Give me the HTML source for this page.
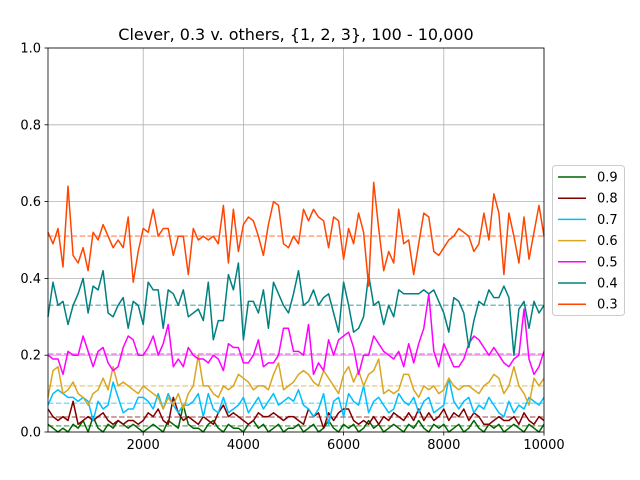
<!DOCTYPE html>
<html><head><meta charset="utf-8"><style>
body{margin:0;background:#fff;}
svg{display:block;font-family:"DejaVu Sans","Liberation Sans",sans-serif;}
</style></head><body>
<svg id="chart" width="640" height="480" viewBox="0 0 640 480" xmlns="http://www.w3.org/2000/svg">
<rect x="0" y="0" width="640" height="480" fill="#fff"/>
<text x="296" y="40" text-anchor="middle" font-size="16">Clever, 0.3 v. others, {1, 2, 3}, 100 - 10,000</text>
<g id="grid"></g><g id="means"></g><g id="lines"></g><g id="axes"></g><g id="legend"></g>
</svg>
<script>
const seriesNames = ["0.9","0.8","0.7","0.6","0.5","0.4","0.3"];
const seriesColors = ["#006400","#800000","#00bfff","#daa520","#ff00ff","#008080","#ff4500"];
const seriesMeans = [0.016,0.039,0.075,0.12,0.203,0.33,0.51];
const xTicks = [2000,4000,6000,8000,10000];
const yTicks = [0.0,0.2,0.4,0.6,0.8,1.0];
const s09 = [0.02,0.01,0.00,0.01,0.00,0.02,0.01,0.03,0.00,0.04,0.01,0.00,0.02,0.01,0.03,0.02,0.01,0.02,0.01,0.00,
0.01,0.02,0.01,0.00,0.03,0.02,0.01,0.07,0.02,0.01,0.01,0.00,0.02,0.03,0.01,0.00,0.02,0.01,0.01,0.00,
0.02,0.03,0.01,0.02,0.00,0.01,0.02,0.00,0.01,0.01,0.02,0.00,0.01,0.02,0.00,0.01,0.03,0.01,0.00,0.02,
0.01,0.02,0.00,0.01,0.03,0.01,0.02,0.00,0.01,0.02,0.01,0.00,0.02,0.01,0.03,0.01,0.00,0.02,0.01,0.02,
0.00,0.01,0.02,0.00,0.01,0.03,0.01,0.00,0.02,0.01,0.02,0.00,0.01,0.02,0.01,0.00,0.02,0.01,0.00,0.02];
const s08 = [0.06,0.04,0.03,0.04,0.03,0.08,0.02,0.03,0.04,0.03,0.04,0.05,0.03,0.02,0.03,0.02,0.03,0.03,0.02,0.03,
0.05,0.04,0.06,0.03,0.02,0.09,0.05,0.03,0.04,0.03,0.02,0.04,0.03,0.02,0.05,0.07,0.04,0.05,0.04,0.03,
0.02,0.03,0.05,0.04,0.04,0.05,0.04,0.03,0.04,0.04,0.03,0.02,0.06,0.04,0.05,0.01,0.05,0.03,0.05,0.06,
0.06,0.03,0.02,0.03,0.02,0.04,0.02,0.04,0.03,0.05,0.04,0.03,0.05,0.03,0.06,0.03,0.05,0.03,0.04,0.06,
0.03,0.05,0.04,0.06,0.03,0.05,0.04,0.02,0.02,0.03,0.04,0.03,0.03,0.04,0.02,0.05,0.03,0.02,0.04,0.03];
const s07 = [0.07,0.10,0.11,0.10,0.09,0.09,0.08,0.09,0.08,0.03,0.08,0.06,0.07,0.13,0.09,0.05,0.06,0.06,0.09,0.09,
0.08,0.06,0.10,0.06,0.10,0.07,0.05,0.07,0.07,0.08,0.10,0.04,0.10,0.06,0.05,0.09,0.05,0.06,0.07,0.09,
0.05,0.07,0.09,0.06,0.08,0.10,0.07,0.08,0.09,0.08,0.11,0.07,0.06,0.04,0.06,0.10,0.02,0.08,0.09,0.04,
0.10,0.08,0.07,0.12,0.05,0.08,0.09,0.07,0.05,0.06,0.10,0.08,0.07,0.09,0.05,0.08,0.09,0.05,0.06,0.07,
0.14,0.08,0.06,0.08,0.09,0.05,0.07,0.06,0.09,0.07,0.05,0.04,0.08,0.05,0.07,0.06,0.09,0.08,0.07,0.09];
const s06 = [0.09,0.16,0.17,0.10,0.11,0.13,0.10,0.09,0.07,0.10,0.11,0.14,0.11,0.17,0.12,0.13,0.12,0.11,0.10,0.12,
0.11,0.10,0.09,0.06,0.09,0.07,0.10,0.06,0.10,0.12,0.20,0.12,0.12,0.10,0.09,0.12,0.11,0.12,0.15,0.14,
0.13,0.11,0.12,0.12,0.11,0.15,0.18,0.11,0.12,0.13,0.15,0.16,0.15,0.13,0.12,0.16,0.14,0.12,0.10,0.15,
0.17,0.13,0.16,0.12,0.15,0.16,0.19,0.10,0.11,0.10,0.11,0.15,0.15,0.11,0.09,0.12,0.11,0.12,0.10,0.11,
0.14,0.12,0.11,0.12,0.12,0.11,0.10,0.12,0.13,0.15,0.14,0.10,0.12,0.17,0.12,0.10,0.07,0.14,0.12,0.14];
const s05 = [0.20,0.19,0.19,0.15,0.21,0.20,0.20,0.25,0.21,0.17,0.21,0.22,0.18,0.16,0.17,0.22,0.25,0.24,0.20,0.20,
0.22,0.25,0.20,0.23,0.28,0.17,0.19,0.17,0.22,0.20,0.19,0.19,0.18,0.20,0.19,0.16,0.23,0.22,0.22,0.18,
0.18,0.20,0.24,0.17,0.18,0.18,0.20,0.27,0.27,0.21,0.21,0.20,0.28,0.15,0.18,0.16,0.24,0.20,0.24,0.25,
0.26,0.22,0.15,0.20,0.20,0.25,0.23,0.21,0.20,0.19,0.21,0.17,0.23,0.18,0.23,0.27,0.36,0.21,0.17,0.23,
0.20,0.17,0.17,0.19,0.23,0.25,0.24,0.22,0.20,0.22,0.20,0.18,0.17,0.19,0.20,0.32,0.19,0.15,0.17,0.21];
const s04 = [0.30,0.39,0.33,0.34,0.28,0.33,0.36,0.40,0.31,0.38,0.37,0.42,0.31,0.30,0.33,0.35,0.27,0.34,0.33,0.28,
0.39,0.37,0.37,0.27,0.37,0.36,0.33,0.37,0.30,0.31,0.32,0.29,0.39,0.24,0.29,0.29,0.41,0.37,0.44,0.24,
0.34,0.34,0.31,0.37,0.27,0.39,0.36,0.33,0.31,0.36,0.42,0.33,0.34,0.37,0.33,0.35,0.36,0.31,0.26,0.39,
0.33,0.26,0.27,0.30,0.41,0.33,0.34,0.28,0.33,0.30,0.37,0.36,0.36,0.36,0.36,0.37,0.36,0.37,0.34,0.31,
0.26,0.35,0.34,0.31,0.22,0.29,0.34,0.33,0.37,0.35,0.35,0.38,0.35,0.20,0.32,0.34,0.27,0.34,0.31,0.33];
const s03 = [0.52,0.49,0.53,0.43,0.64,0.46,0.44,0.48,0.42,0.52,0.50,0.54,0.51,0.48,0.50,0.48,0.56,0.39,0.47,0.53,
0.52,0.58,0.51,0.53,0.53,0.46,0.51,0.51,0.41,0.53,0.50,0.51,0.50,0.51,0.49,0.59,0.44,0.58,0.47,0.54,
0.56,0.55,0.51,0.46,0.54,0.60,0.59,0.49,0.48,0.51,0.49,0.58,0.55,0.58,0.56,0.55,0.48,0.56,0.55,0.45,
0.53,0.49,0.57,0.52,0.38,0.65,0.53,0.42,0.47,0.44,0.58,0.49,0.50,0.41,0.49,0.57,0.56,0.47,0.46,0.48,
0.50,0.51,0.53,0.52,0.51,0.47,0.49,0.57,0.50,0.62,0.57,0.41,0.57,0.51,0.44,0.56,0.45,0.52,0.59,0.51];
const allSeries = [s09,s08,s07,s06,s05,s04,s03];

const NS="http://www.w3.org/2000/svg";
const L=48,R=544,T=48,B=432,X0=100,X1=10000;
function xs(v){return L+(v-X0)/(X1-X0)*(R-L);}
function ys(v){return B-v*(B-T);}
function mk(tag,attrs,parent){const e=document.createElementNS(NS,tag);for(const k in attrs)e.setAttribute(k,attrs[k]);parent.appendChild(e);return e;}
const grid=document.getElementById('grid'),axes=document.getElementById('axes'),lines=document.getElementById('lines'),means=document.getElementById('means'),legend=document.getElementById('legend');

xTicks.forEach(t=>{
  const g=mk('line',{x1:xs(t),x2:xs(t),y1:T,y2:B,stroke:'#b0b0b0','stroke-width':0.8},grid);
  
  
  const tk=mk('line',{x1:xs(t),x2:xs(t),y1:B,y2:B+3.5,stroke:'#000','stroke-width':0.8},axes);
  
  
  const tx=mk('text',{x:xs(t),y:B+17,'text-anchor':'middle','font-size':13},axes);
  tx.textContent=String(t);
  
  
});
yTicks.forEach(t=>{
  const g=mk('line',{x1:L,x2:R,y1:ys(t),y2:ys(t),stroke:'#b0b0b0','stroke-width':0.8},grid);
  
  
  const tk=mk('line',{x1:L-3.5,x2:L,y1:ys(t),y2:ys(t),stroke:'#000','stroke-width':0.8},axes);
  
  
  const tx=mk('text',{x:L-7,y:ys(t)+4.5,'text-anchor':'end','font-size':13},axes);
  tx.textContent=t.toFixed(1);
  
  
});
const frame=mk('rect',{x:L,y:T,width:R-L,height:B-T,fill:'none',stroke:'#000','stroke-width':0.8},axes);



allSeries.forEach((s,i)=>{
  const m=mk('line',{x1:L,x2:R,y1:ys(seriesMeans[i]),y2:ys(seriesMeans[i]),stroke:seriesColors[i],'stroke-opacity':0.5,'stroke-width':1.5,'stroke-dasharray':'5.5,2.4'},means);
  
  
  const pts=s.map((v,j)=>xs(X0+j*100).toFixed(1)+','+ys(v).toFixed(1)).join(' ');
  const p=mk('polyline',{points:pts,fill:'none',stroke:seriesColors[i],'stroke-width':1.5,'stroke-linejoin':'round'},lines);
  
  
});

const box=mk('rect',{x:552.5,y:165.5,width:72,height:150,rx:3,fill:'#fff',stroke:'#ccc','stroke-width':1},legend);


seriesNames.forEach((n,i)=>{
  const y=177+i*21.2;
  const l=mk('line',{x1:558,x2:586,y1:y,y2:y,stroke:seriesColors[i],'stroke-width':1.5},legend);
  
  
  const t=mk('text',{x:597,y:y+4.5,'font-size':13},legend);
  t.textContent=n;
  
  
});
</script>
</body></html>
